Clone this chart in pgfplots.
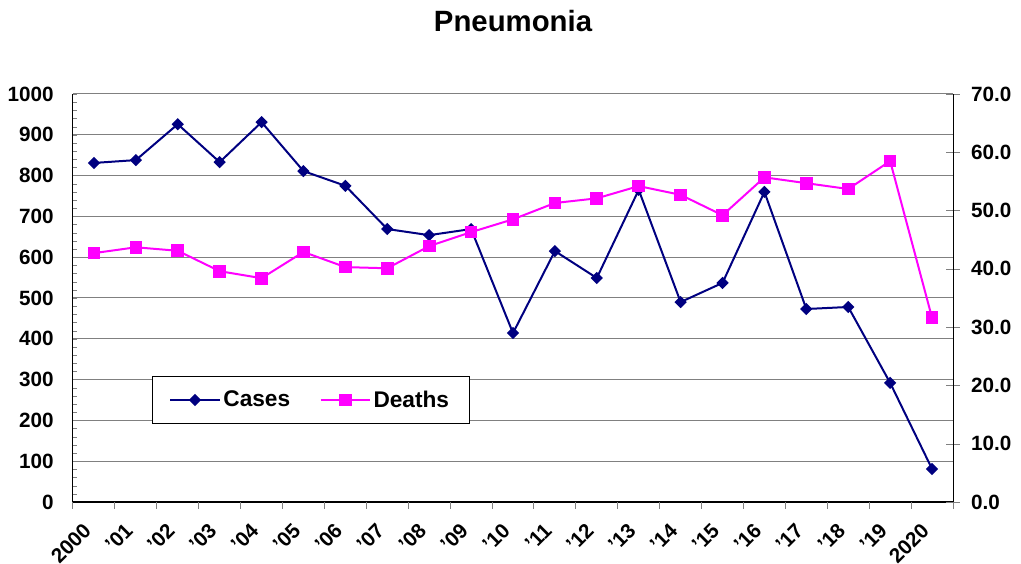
\documentclass[border=0pt]{standalone}
\usepackage{pgfplots}
\pgfplotsset{compat=1.18}
\usepackage{fontspec}
\setmainfont{Liberation Sans}

\definecolor{casecol}{HTML}{000080}
\definecolor{deathcol}{HTML}{FF00FF}

\pgfplotsset{
  base/.style={
    scale only axis, width=660pt, height=306pt,
    at={(0,0)}, anchor=south west,
    xmin=-0.5, xmax=20.5,
    /pgf/number format/assume math mode=true,
    /pgf/number format/1000 sep={},
    ticklabel style={font=\bfseries\fontsize{15.5}{17}\selectfont},
    axis line style={black, line width=0.75pt},
  },
}

\begin{document}
\begin{tikzpicture}
% left axis: cases
\begin{axis}[base,
    ymin=0, ymax=1000,
    axis x line*=bottom, axis y line*=left,
    ytick={0,100,...,1000}, minor y tick num=4,
    ymajorgrids, grid style={gray, line width=0.75pt},
    tick align=inside, major tick length=3pt, minor tick length=3pt,
    y tick style={gray},
    xtick={0,...,20},
    xticklabels={2000,'01,'02,'03,'04,'05,'06,'07,'08,'09,'10,'11,'12,'13,'14,'15,'16,'17,'18,'19,2020},
    major x tick style={draw=none},
    xticklabel style={xshift=-9pt, yshift=-10pt, rotate=45, anchor=north east},
    yticklabel style={xshift=-11pt},
    legend columns=2,
    legend style={at={(0.27,0.25)}, anchor=center, draw=black, line width=0.6pt,
      font=\bfseries\fontsize{17}{19}\selectfont,
      inner xsep=13pt, inner ysep=9pt,
      /tikz/every even column/.append style={column sep=20pt}},
    legend image code/.code={\draw[mark repeat=2, mark phase=2]
      plot coordinates {(0cm,0cm) (0.65cm,0cm) (1.3cm,0cm)};},
]
\addplot[casecol, line width=1.5pt, mark=square*, mark size=2.5pt,
  mark options={rotate=45, solid}] coordinates {
  (0,831) (1,838) (2,926) (3,833) (4,931) (5,811) (6,775) (7,669) (8,654)
  (9,669) (10,414) (11,615) (12,549) (13,765) (14,490) (15,537) (16,760)
  (17,473) (18,478) (19,292) (20,81)
};
\addlegendentry{Cases}
\addlegendimage{deathcol, line width=1.5pt, mark=square*, mark size=4pt}
\addlegendentry{Deaths}
\end{axis}
% right axis: deaths
\begin{axis}[base,
    ymin=0, ymax=70,
    axis y line*=right, axis x line=none,
    ytick={0,10,...,70},
    tick align=center, major tick length=10pt,
    y tick style={gray},
    yticklabel style={xshift=5pt,
      /pgf/number format/fixed, /pgf/number format/fixed zerofill,
      /pgf/number format/precision=1},
]
\addplot[deathcol, line width=1.5pt, mark=square*, mark size=4pt] coordinates {
  (0,42.7) (1,43.7) (2,43.1) (3,39.6) (4,38.4) (5,42.9) (6,40.3) (7,40.1)
  (8,43.9) (9,46.3) (10,48.5) (11,51.3) (12,52.1) (13,54.2) (14,52.7)
  (15,49.2) (16,55.7) (17,54.7) (18,53.7) (19,58.5) (20,31.6)
};
\end{axis}
% category separator ticks on the x axis
\begin{axis}[base,
    ymin=0, ymax=1,
    axis x line*=bottom, axis y line=none,
    xtick={-0.5,0.5,...,20.5}, xticklabels={},
    tick align=outside, major tick length=5pt,
    x tick style={gray, line width=0.75pt},
]
\end{axis}
\node[font=\bfseries\fontsize{22}{26}\selectfont] at (330pt,360.75pt) {Pneumonia};
\pgfresetboundingbox
\useasboundingbox (-54.75pt,-46.5pt) rectangle (711pt,376.5pt);
\end{tikzpicture}
\end{document}
